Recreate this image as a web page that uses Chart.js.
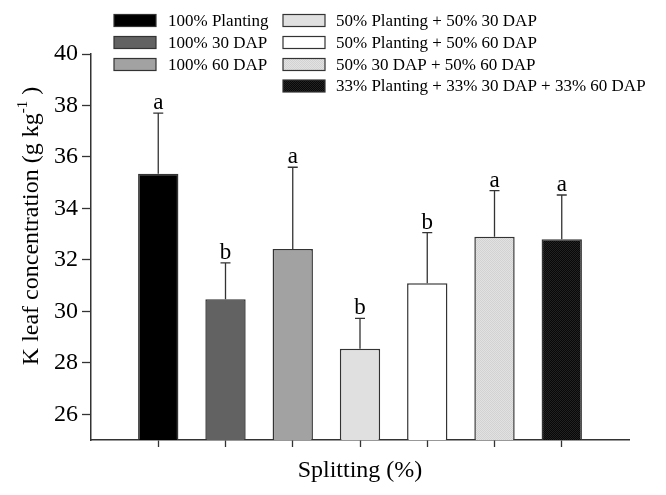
<!DOCTYPE html>
<html>
<head>
<meta charset="utf-8">
<script src="https://cdn.jsdelivr.net/npm/chart.js@4.4.1/dist/chart.umd.min.js"></script>
<style>
  body { margin: 0; background: #fff; }
  #wrap { width: 666px; height: 495px; }
</style>
</head>
<body>
<div id="wrap"><canvas id="kChart" width="666" height="495"></canvas></div>
<script>
// treatments
const categories = ['100% Planting', '100% 30 DAP', '100% 60 DAP',
    '50% Planting + 50% 30 DAP', '50% Planting + 50% 60 DAP',
    '50% 30 DAP + 50% 60 DAP', '33% Planting + 33% 30 DAP + 33% 60 DAP'];
const means = [35.35, 30.47, 32.42, 28.55, 31.09, 32.90, 32.80];
const errors = [2.35, 1.41, 3.18, 1.18, 1.97, 1.79, 1.72];
const letters = ['a', 'b', 'a', 'b', 'b', 'a', 'a'];
const yTicks = [26, 28, 30, 32, 34, 36, 38, 40];

const SERIF = "'Liberation Serif', 'Times New Roman', serif";

// fine checker texture for the last two treatments
function dotted(bg, dot) {
    const c = document.createElement('canvas');
    c.width = 2; c.height = 2;
    const g = c.getContext('2d');
    g.fillStyle = bg;
    g.fillRect(0, 0, 2, 2);
    g.fillStyle = dot;
    g.fillRect(0, 0, 1, 1);
    g.fillRect(1, 1, 1, 1);
    return g.createPattern(c, 'repeat');
}

const fills = ['#000000', '#626262', '#a2a2a2', '#e0e0e0', '#ffffff',
    dotted('#e2e2e2', '#d2d2d2'), dotted('#080808', '#222222')];

// padded so the axis runs one step past the first and last bar
const labels = [''].concat(categories, ['']);
const values = [null].concat(means, [null]);
const colors = ['#fff'].concat(fills, ['#fff']);

const extras = {
    id: 'extras',
    afterDatasetsDraw(chart) {
        const ctx = chart.ctx;
        const y = chart.scales.y;
        const meta = chart.getDatasetMeta(0);
        ctx.save();
        ctx.strokeStyle = '#333';
        ctx.lineWidth = 1.3;
        ctx.fillStyle = '#000';
        ctx.font = '23px ' + SERIF;
        ctx.textAlign = 'center';
        ctx.textBaseline = 'alphabetic';
        means.forEach((m, i) => {
            const bar = meta.data[i + 1];
            const top = y.getPixelForValue(m);
            const cap = y.getPixelForValue(m + errors[i]);
            ctx.beginPath();
            ctx.moveTo(bar.x, top);
            ctx.lineTo(bar.x, cap);
            ctx.moveTo(bar.x - 5, cap);
            ctx.lineTo(bar.x + 5, cap);
            ctx.stroke();
            ctx.fillText(letters[i], bar.x, cap - 4);
        });
        ctx.restore();
    },
    afterDraw(chart) {
        const ctx = chart.ctx;
        const area = chart.chartArea;
        ctx.save();
        ctx.fillStyle = '#000';

        // x title
        ctx.font = '24px ' + SERIF;
        ctx.textAlign = 'center';
        ctx.textBaseline = 'middle';
        ctx.fillText('Splitting (%)', (area.left + area.right) / 2, 471);

        // y title with superscript
        const main = 'K leaf concentration (g kg';
        const sup = '-1';
        const tail = ' )';
        ctx.font = '24px ' + SERIF;
        const w1 = ctx.measureText(main).width;
        const w3 = ctx.measureText(tail).width;
        ctx.font = '15px ' + SERIF;
        const w2 = ctx.measureText(sup).width;
        const total = w1 + w2 + w3;
        ctx.translate(30, 226);
        ctx.rotate(-Math.PI / 2);
        ctx.textAlign = 'left';
        ctx.textBaseline = 'alphabetic';
        let x0 = -total / 2;
        ctx.font = '24px ' + SERIF;
        ctx.fillText(main, x0, 8);
        ctx.font = '15px ' + SERIF;
        ctx.fillText(sup, x0 + w1, -3);
        ctx.font = '24px ' + SERIF;
        ctx.fillText(tail, x0 + w1 + w2, 8);
        ctx.restore();

        // legend, two columns
        ctx.save();
        ctx.font = '17px ' + SERIF;
        ctx.textBaseline = 'middle';
        ctx.textAlign = 'left';
        const rows = [20.5, 42.5, 64.5, 86];
        const cols = [{ box: 114, text: 168, items: [0, 1, 2] },
                      { box: 283, text: 336, items: [3, 4, 5, 6] }];
        cols.forEach(col => {
            col.items.forEach((k, r) => {
                const cy = rows[r];
                ctx.fillStyle = fills[k];
                ctx.fillRect(col.box, cy - 6, 42, 12);
                ctx.strokeStyle = '#333';
                ctx.lineWidth = 1.2;
                ctx.strokeRect(col.box, cy - 6, 42, 12);
                ctx.fillStyle = '#000';
                ctx.fillText(categories[k], col.text, cy + 1);
            });
        });
        ctx.restore();
    }
};

new Chart(document.getElementById('kChart'), {
    type: 'bar',
    data: {
        labels: labels,
        datasets: [{
            data: values,
            base: 25,
            backgroundColor: colors,
            borderColor: '#333',
            borderWidth: 1.5,
            barPercentage: 0.6,
            categoryPercentage: 1
        }]
    },
    options: {
        responsive: false,
        animation: false,
        layout: { padding: { left: 0, right: 37, top: 54, bottom: 0 } },
        plugins: { legend: { display: false }, tooltip: { enabled: false } },
        scales: {
            x: {
                offset: false,
                grid: {
                    offset: false,
                    drawOnChartArea: false,
                    drawTicks: true,
                    tickLength: 7,
                    tickColor: c => (c.index === 0 || c.index === labels.length - 1) ? 'rgba(0,0,0,0)' : '#333',
                    tickWidth: 1.3
                },
                border: { color: '#333', width: 1.5 },
                ticks: { display: false },
                afterFit: s => { s.height = 55; }
            },
            y: {
                min: 25,
                max: 40,
                afterBuildTicks: s => { s.ticks = yTicks.map(v => ({ value: v })); },
                grid: {
                    drawOnChartArea: false,
                    drawTicks: true,
                    tickLength: 9,
                    tickColor: '#333',
                    tickWidth: 1.3
                },
                border: { color: '#333', width: 1.5 },
                ticks: {
                    color: '#000',
                    padding: 4,
                    font: { family: SERIF, size: 24 }
                },
                afterFit: s => { s.width = 91; }
            }
        }
    },
    plugins: [extras]
});
</script>
</body>
</html>
